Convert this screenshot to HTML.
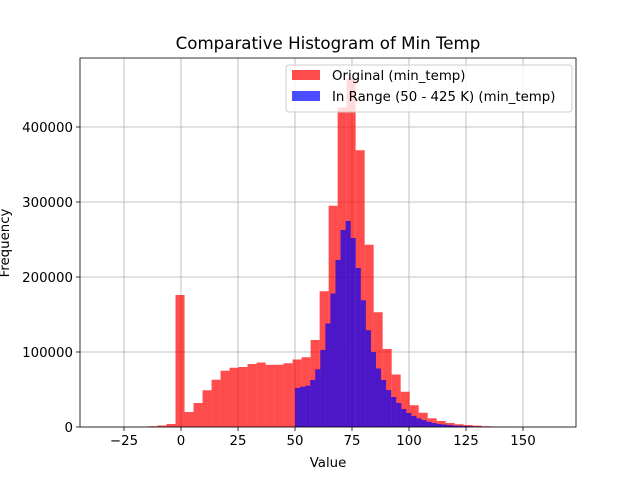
<!DOCTYPE html>
<html><head><meta charset="utf-8"><style>
body{margin:0;background:#fff}
svg{display:block;font-family:"DejaVu Sans","Liberation Sans",sans-serif}
</style></head><body>
<svg id="chart" width="640" height="480" viewBox="0 0 640 480">
<rect x="0" y="0" width="640" height="480" fill="#fff"/>
<g id="grid"></g>
<g id="bars"></g>
<g id="axes"></g>
<text x="328" y="49" font-size="16.67" text-anchor="middle">Comparative Histogram of Min Temp</text>
<text x="328" y="467" font-size="13.33" text-anchor="middle">Value</text>
<text x="9" y="243" font-size="13.33" text-anchor="middle" transform="rotate(-90 9 243)">Frequency</text>
<g>
<rect x="286" y="65" width="286" height="47" rx="3" fill="#fff" fill-opacity="0.8" stroke="#ccc"/>
<rect x="292" y="70" width="28" height="10" fill="#ff0000" fill-opacity="0.7"/>
<text x="332" y="80" font-size="13.33">Original (min_temp)</text>
<rect x="292" y="91" width="28" height="10" fill="#0000ff" fill-opacity="0.7"/>
<text x="332" y="101" font-size="13.33">In Range (50 - 425 K) (min_temp)</text>
</g>
</svg>
<script>
const redStart = -34;
const redWidth = 3.95;
const redCounts = [0,0,0,0,0,1000,2000,4000,176000,20000,32000,49000,63000,75000,79000,80000,84000,86000,83000,83000,85000,90000,93000,116000,181000,295000,426000,465000,369000,243000,153000,104000,70000,47000,29000,19000,11600,8000,5300,3600,2700,1800,1000,600,300,100,50,30,20,10];
const blueStart = 50;
const blueWidth = 2.22;
const blueCounts = [52000,53700,55000,62700,77000,102700,138000,178000,222700,262700,274700,252000,212000,169000,129000,100000,78000,62700,49300,40000,32000,24000,18700,14700,11600,9300,7000,5300,4000,3300,2700,2000,1800,1300,1000,800,500,300,200,150,100,80,60,40,30,20,10,10,5,5];
const xTicks = [-25,0,25,50,75,100,125,150];
const yTicks = [0,100000,200000,300000,400000];

const L=80,R=576,T=58,B=427;
const xS=v=>181+(v)*57/25;
const yS=v=>427-v*75/100000;
const NS="http://www.w3.org/2000/svg";
function mk(tag,attrs,parent){const e=document.createElementNS(NS,tag);for(const k in attrs)e.setAttribute(k,attrs[k]);parent.appendChild(e);return e;}
const grid=document.getElementById('grid'),bars=document.getElementById('bars'),axes=document.getElementById('axes');
xTicks.forEach(t=>{
  const x=xS(t);
  const g=mk('line',{x1:x,x2:x,y1:T,y2:B,stroke:'#b0b0b0','stroke-width':0.8},grid);
  
  
  const tk=mk('line',{x1:x,x2:x,y1:B,y2:B+4,stroke:'#000','stroke-width':0.8},axes);
  
  
  const lb=mk('text',{x:x,y:B+18,'font-size':13.33,'text-anchor':'middle'},axes);
  lb.textContent=t<0?'\u2212'+(-t):String(t);
  
  
});
yTicks.forEach(t=>{
  const y=yS(t);
  const g=mk('line',{x1:L,x2:R,y1:y,y2:y,stroke:'#b0b0b0','stroke-width':0.8},grid);
  
  
  const tk=mk('line',{x1:L-4,x2:L,y1:y,y2:y,stroke:'#000','stroke-width':0.8},axes);
  
  
  const lb=mk('text',{x:L-7,y:y+5,'font-size':13.33,'text-anchor':'end'},axes);
  lb.textContent=String(t);
  
  
});
redCounts.forEach((c,i)=>{
  if(c<=0)return;
  const x0=xS(redStart+i*redWidth),x1=xS(redStart+(i+1)*redWidth);
  const r=mk('rect',{x:x0,y:yS(c),width:x1-x0,height:B-yS(c),fill:'#ff0000','fill-opacity':0.7},bars);
  
  
});
blueCounts.forEach((c,i)=>{
  if(c<=0)return;
  const x0=xS(blueStart+i*blueWidth),x1=xS(blueStart+(i+1)*blueWidth);
  const r=mk('rect',{x:x0,y:yS(c),width:x1-x0,height:B-yS(c),fill:'#0000ff','fill-opacity':0.7},bars);
  
  
});
const fr=mk('rect',{x:L,y:T,width:R-L,height:B-T,fill:'none',stroke:'#000','stroke-width':0.8},axes);


</script>
</body></html>
